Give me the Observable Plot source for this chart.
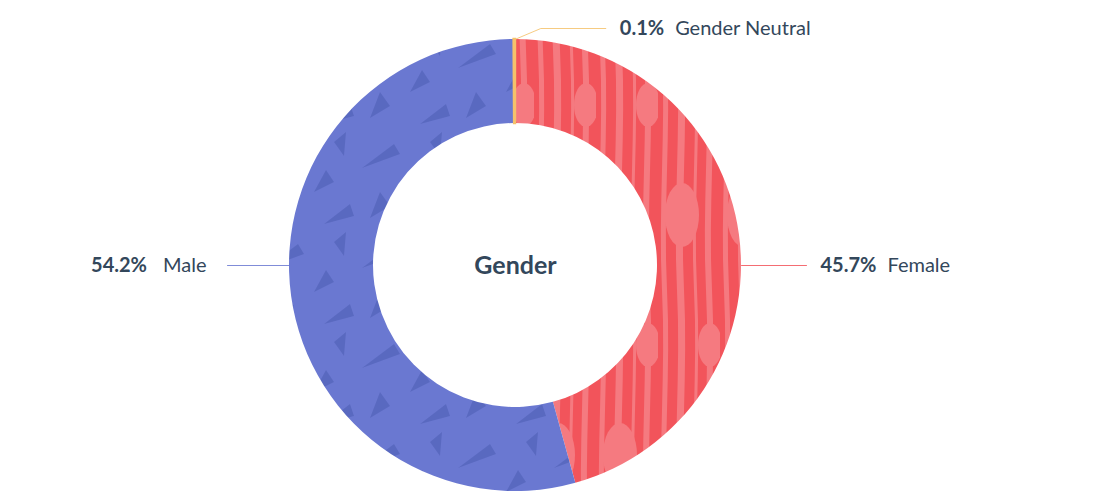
<!DOCTYPE html>
<html>
<head>
<meta charset="utf-8">
<script src="https://cdn.jsdelivr.net/npm/d3@7"></script>
<script src="https://cdn.jsdelivr.net/npm/@observablehq/plot@0.6"></script>
<style>
  html, body { margin: 0; padding: 0; background: #ffffff; }
  #chart { width: 1100px; height: 500px; }
</style>
</head>
<body>
<div id="chart"></div>
<script>
// Share of respondents by gender, drawn clockwise from 12 o'clock
const categories = ["Female", "Male", "Gender Neutral"];
const shares = [45.7, 54.2, 0.1];
const shareLabels = ["45.7%", "54.2%", "0.1%"];
const sliceColors = ["#f2545b", "#6a78d1", "#f5c26b"];
const centerTitle = "Gender";

// Layout
const W = 1100, H = 500;
const CX = 515, CY = 265;
const R_OUT = 226, R_IN = 142;
const FONT = "Lato, 'Open Sans', sans-serif";
const TEXT_COLOR = "#33475b";
const LABEL_SIZE = 20;

const rows = categories.map((c, i) => ({
  category: c, share: shares[i], label: shareLabels[i], color: sliceColors[i]
}));
const arcs = d3.pie().sort(null).value(d => d.share)(rows)
  .map(a => ({...a.data, startAngle: a.startAngle, endAngle: a.endAngle}));

// Leader line for each slice: horizontal when the slice spans 3 or 9 o'clock,
// otherwise an elbow out of the slice's middle
function leader(d) {
  const a0 = d.startAngle, a1 = d.endAngle;
  if (a0 <= Math.PI / 2 && Math.PI / 2 <= a1)
    return {side: "right", pts: [[CX + R_OUT, CY], [CX + R_OUT + 65, CY]]};
  if (a0 <= 3 * Math.PI / 2 && 3 * Math.PI / 2 <= a1)
    return {side: "left", pts: [[CX - R_OUT, CY], [CX - R_OUT - 62, CY]]};
  const m = (a0 + a1) / 2;
  const sx = CX + R_OUT * Math.sin(m), sy = CY - R_OUT * Math.cos(m);
  return {side: "right", pts: [[sx, sy], [sx + 26, sy - 11], [sx + 91, sy - 11]]};
}

const ctx = document.createElement("canvas").getContext("2d");
function textWidth(s, weight) {
  ctx.font = `${weight} ${LABEL_SIZE}px ${FONT}`;
  return ctx.measureText(s).width;
}

const leaderPts = [];
const rightPct = [], rightName = [], leftPct = [], leftName = [];
for (const d of arcs) {
  const L = leader(d);
  L.pts.forEach(([x, y]) => leaderPts.push({key: d.category, color: d.color, x, y}));
  const [ex, ey] = L.pts[L.pts.length - 1];
  if (L.side === "right") {
    const px = ex + 14;
    rightPct.push({x: px, y: ey, text: d.label});
    rightName.push({x: px + textWidth(d.label, 700) + 11, y: ey, text: d.category});
  } else {
    const nx = ex - 21;
    leftName.push({x: nx, y: ey, text: d.category});
    leftPct.push({x: nx - textWidth(d.category, 400) - 16, y: ey, text: d.label});
  }
}

// Donut ring with textured fills, drawn through the plot's x/y scales
function donut(index, scales, values, dimensions, context) {
  const doc = (context && context.document) || document;
  const ns = "http://www.w3.org/2000/svg";
  const g = d3.select(doc.createElementNS(ns, "g"));
  const cx = scales.x(CX), cy = scales.y(CY);
  const rOut = scales.x(CX + R_OUT) - cx, rIn = scales.x(CX + R_IN) - cx;

  const defs = g.append("defs");
  // Female: light streaks and blobs
  const pf = defs.append("pattern").attr("id", "tex-female")
    .attr("patternUnits", "userSpaceOnUse").attr("width", 62).attr("height", 240)
    .attr("x", cx).attr("y", cy);
  pf.append("rect").attr("width", 62).attr("height", 240).attr("fill", "#f2545b");
  const lf = "#f57a80";
  [[4, 5], [19, 7], [36, 3], [48, 6]].forEach(([x, w]) =>
    pf.append("path").attr("fill", lf)
      .attr("d", `M${x},0 C${x + 4},80 ${x - 4},160 ${x},240 L${x + w},240 C${x - 4 + w},160 ${x + 4 + w},80 ${x + w},0 Z`));
  pf.append("ellipse").attr("cx", 24).attr("cy", 165).attr("rx", 17).attr("ry", 32).attr("fill", lf);
  pf.append("ellipse").attr("cx", 52).attr("cy", 55).attr("rx", 12).attr("ry", 22).attr("fill", lf);

  // Male: scattered darker shards
  const pm = defs.append("pattern").attr("id", "tex-male")
    .attr("patternUnits", "userSpaceOnUse").attr("width", 96).attr("height", 100)
    .attr("x", cx).attr("y", cy);
  pm.append("rect").attr("width", 96).attr("height", 100).attr("fill", "#6a78d1");
  const dm = "#5867bf";
  [
    "M4,38 L36,14 L42,24 Z",
    "M52,62 L64,40 L72,52 Z",
    "M12,88 L22,62 L32,76 Z",
    "M62,94 L88,74 L92,86 Z",
    "M72,12 L84,2 L82,26 Z"
  ].forEach(p => pm.append("path").attr("d", p).attr("fill", dm).attr("fill-opacity", 0.9));

  const arc = d3.arc().innerRadius(rIn).outerRadius(rOut);
  const fills = {"Female": "url(#tex-female)", "Male": "url(#tex-male)"};
  g.append("g").attr("transform", `translate(${cx},${cy})`)
    .selectAll("path").data(arcs).join("path")
    .attr("d", d => arc(d))
    .attr("fill", d => fills[d.category] || d.color)
    .attr("stroke", d => d.category in fills ? "none" : d.color)
    .attr("stroke-width", 2.4);
  return g.node();
}

const labelStyle = {x: "x", y: "y", text: "text", fontSize: LABEL_SIZE, fill: TEXT_COLOR};

const chart = Plot.plot({
  width: W,
  height: H,
  margin: 0,
  x: {domain: [0, W], range: [0, W], axis: null},
  y: {domain: [0, H], range: [0, H], axis: null},
  color: {type: "identity"},
  style: {fontFamily: FONT, background: "#ffffff", overflow: "visible"},
  marks: [
    donut,
    Plot.line(leaderPts, {x: "x", y: "y", z: "key", stroke: "color", strokeWidth: 1, strokeOpacity: 0.85}),
    Plot.text(rightPct, {...labelStyle, textAnchor: "start", fontWeight: 700}),
    Plot.text(rightName, {...labelStyle, textAnchor: "start", fontWeight: 400}),
    Plot.text(leftPct, {...labelStyle, textAnchor: "end", fontWeight: 700}),
    Plot.text(leftName, {...labelStyle, textAnchor: "end", fontWeight: 400}),
    Plot.text([centerTitle], {x: () => CX, y: () => CY, text: d => d,
      fontSize: 25, fontWeight: 700, fill: TEXT_COLOR})
  ]
});
document.getElementById("chart").appendChild(chart);
</script>
</body>
</html>
